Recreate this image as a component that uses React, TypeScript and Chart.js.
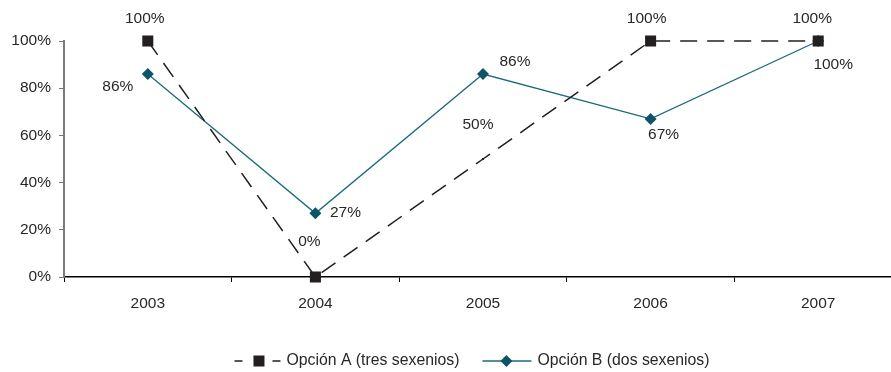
import React, { useEffect, useRef } from "react";
import { Chart, registerables } from "chart.js";

Chart.register(...registerables);

const categories = ["2003", "2004", "2005", "2006", "2007"];
const seriesAName = "Opción A (tres sexenios)";
const seriesBName = "Opción B (dos sexenios)";
const seriesA = [100, 0, 50, 100, 100];
const seriesB = [86, 27, 86, 67, 100];
const labelsA = ["100%", "0%", "50%", "100%", "100%"];
const labelsB = ["86%", "27%", "86%", "67%", "100%"];
// label offsets (style only) relative to each point
const offsetsA = [[-3, -22], [-6, -35], [-5, -34], [-4, -22], [-6, -22]];
const offsetsB = [[-30, 13], [30, -1], [32, -12], [13, 16], [15, 24]];

const FONT = "'Liberation Sans', Arial, Helvetica, sans-serif";
const FS = 15.5;
const TEXT = "#2a2627";
const TEAL = "#1b6a7a";
const TEAL_DARK = "#0d5566";
const BLACK = "#231f20";

const W = 910;
const H = 372;

export default function App() {
  const ref = useRef<HTMLCanvasElement>(null);

  useEffect(() => {
    const canvas = ref.current!;
    const labelPlugin = {
      id: "valueLabels",
      afterDatasetsDraw(chart: any) {
        const ctx = chart.ctx;
        ctx.save();
        ctx.font = `${FS}px ${FONT}`;
        ctx.fillStyle = TEXT;
        ctx.textAlign = "center";
        ctx.textBaseline = "middle";
        const sets = [
          [labelsA, offsetsA],
          [labelsB, offsetsB],
        ] as any[];
        sets.forEach(([labs, offs], di) => {
          const meta = chart.getDatasetMeta(di);
          meta.data.forEach((pt: any, i: number) => {
            ctx.fillText(labs[i], pt.x + offs[i][0], pt.y + offs[i][1]);
          });
        });
        ctx.restore();
      },
    };
    const legendPlugin = {
      id: "customLegend",
      afterDraw(chart: any) {
        const ctx = chart.ctx;
        ctx.save();
        ctx.font = `${FS + 0.3}px ${FONT}`;
        const y = 361;
        const wA = ctx.measureText(seriesAName).width;
        const wB = ctx.measureText(seriesBName).width;
        const symA = 46, symB = 49, gap = 6, itemGap = 23;
        const total = symA + gap + wA + itemGap + symB + gap + wB;
        let x = 472 - total / 2;
        // A symbol
        ctx.strokeStyle = BLACK;
        ctx.lineWidth = 1.5;
        ctx.beginPath();
        ctx.moveTo(x, y); ctx.lineTo(x + 8, y);
        ctx.moveTo(x + 38, y); ctx.lineTo(x + 46, y);
        ctx.stroke();
        ctx.fillStyle = BLACK;
        ctx.fillRect(x + 19, y - 5.5, 11, 11);
        x += symA + gap;
        ctx.fillStyle = TEXT;
        ctx.textBaseline = "middle";
        ctx.textAlign = "left";
        ctx.fillText(seriesAName, x, y);
        x += wA + itemGap;
        // B symbol
        ctx.strokeStyle = TEAL;
        ctx.lineWidth = 1.3;
        ctx.beginPath();
        ctx.moveTo(x, y); ctx.lineTo(x + symB, y);
        ctx.stroke();
        const cx = x + 24;
        ctx.fillStyle = TEAL_DARK;
        ctx.beginPath();
        ctx.moveTo(cx - 6, y); ctx.lineTo(cx, y - 6); ctx.lineTo(cx + 6, y); ctx.lineTo(cx, y + 6);
        ctx.closePath();
        ctx.fill();
        x += symB + gap;
        ctx.fillStyle = TEXT;
        ctx.fillText(seriesBName, x, y);
        ctx.restore();
      },
    };

    const chart = new Chart(canvas, {
      type: "line",
      data: {
        labels: categories,
        datasets: [
          {
            label: seriesAName,
            data: seriesA,
            borderColor: BLACK,
            backgroundColor: BLACK,
            borderWidth: 1.5,
            borderDash: [17, 10],
            pointStyle: "rect",
            pointRadius: [7.8, 7.8, 1.4, 7.8, 7.8],
            pointBorderWidth: 0,
            pointBackgroundColor: BLACK,
            tension: 0,
            clip: false as any,
          },
          {
            label: seriesBName,
            data: seriesB,
            borderColor: TEAL,
            backgroundColor: TEAL_DARK,
            borderWidth: 1.3,
            pointStyle: "rectRot",
            pointRadius: 6,
            pointBorderWidth: 0,
            pointBackgroundColor: TEAL_DARK,
            tension: 0,
            clip: false as any,
          },
        ],
      },
      options: {
        responsive: false,
        animation: false,
        devicePixelRatio: 1,
        layout: { padding: { left: 0, top: 41, right: W - 902, bottom: 0 } },
        plugins: {
          legend: { display: false },
          tooltip: { enabled: false },
          title: { display: false },
        },
        scales: {
          x: {
            type: "category",
            offset: true,
            grid: {
              display: true,
              drawOnChartArea: false,
              offset: true,
              tickLength: 5,
              color: "#000",
              lineWidth: 1,
            },
            border: { display: true, color: "#000", width: 1.5 },
            ticks: {
              color: TEXT,
              font: { family: FONT, size: FS },
              padding: 12,
              maxRotation: 0,
            },
            afterFit(scale: any) {
              scale.height = H - 277;
            },
          },
          y: {
            min: 0,
            max: 100,
            ticks: {
              stepSize: 20,
              color: TEXT,
              font: { family: FONT, size: FS },
              padding: 8,
              callback: (v: any) => `${v}%`,
            },
            grid: {
              display: true,
              drawOnChartArea: false,
              tickLength: 5,
              color: "#777",
              lineWidth: 1,
            },
            border: { display: true, color: "#7a7a7a", width: 2 },
            afterFit(scale: any) {
              scale.width = 64;
            },
          },
        },
      },
      plugins: [labelPlugin, legendPlugin],
    });
    return () => chart.destroy();
  }, []);

  return (
    <div
      style={{
        position: "absolute",
        left: 0,
        top: 0,
        width: 891,
        height: H,
        overflow: "hidden",
        background: "#fff",
      }}
    >
      <canvas ref={ref} width={W} height={H} style={{ display: "block", width: W, height: H }} />
    </div>
  );
}
